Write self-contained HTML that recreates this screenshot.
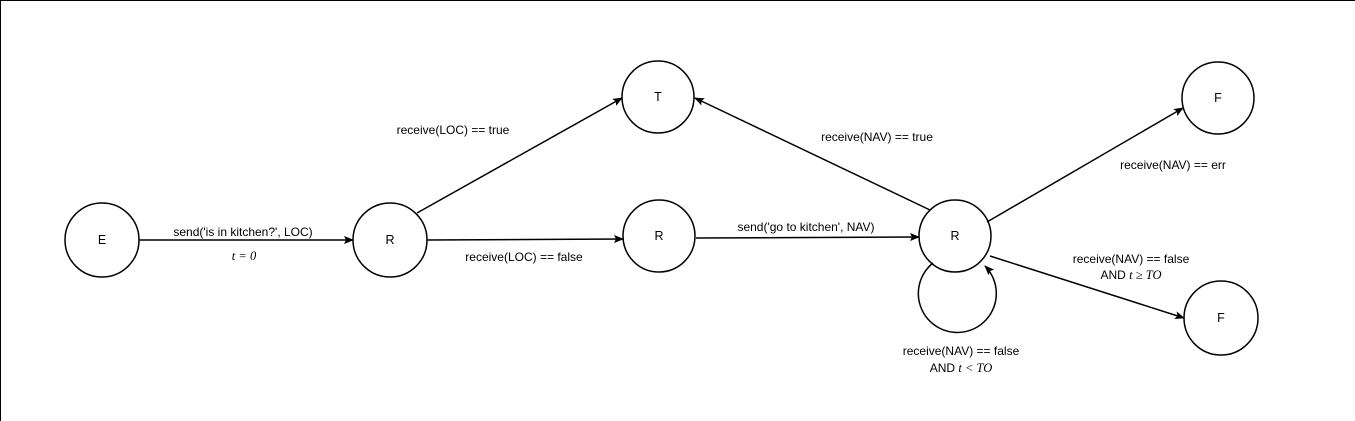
<!DOCTYPE html>
<html><head><meta charset="utf-8"><style>
html,body{margin:0;padding:0;background:#fff;}
svg{display:block;}
text{font-family:"Liberation Sans",sans-serif;font-size:12px;fill:#000;}
.n{font-size:12.5px;}
.m{font-family:"Liberation Serif",serif;font-style:italic;font-size:12.5px;}
</style></head><body>
<svg width="1355" height="421" viewBox="0 0 1355 421" xmlns="http://www.w3.org/2000/svg">
<defs><marker id="a" markerWidth="10" markerHeight="8" refX="9" refY="4" orient="auto" markerUnits="userSpaceOnUse"><path d="M0,0 L10,4 L0,8 L2,4 z" fill="#000"/></marker></defs>
<line x1="0" y1="0.5" x2="1355" y2="0.5" stroke="#000"/>
<line x1="0.5" y1="0" x2="0.5" y2="421" stroke="#000"/>
<g fill="none" stroke="#000" stroke-width="1.5">
<circle cx="102" cy="240" r="37"/>
<circle cx="390" cy="240" r="37"/>
<circle cx="658" cy="97" r="36"/>
<circle cx="659" cy="236" r="36"/>
<circle cx="955" cy="236" r="36"/>
<circle cx="1218" cy="98" r="36"/>
<circle cx="1221" cy="318" r="37"/>
<path d="M933,263 A39,39 0 1 0 985,266" marker-end="url(#a)"/>
<line x1="139" y1="240" x2="353" y2="240" marker-end="url(#a)"/>
<line x1="417" y1="213" x2="622" y2="98" marker-end="url(#a)"/>
<line x1="427" y1="240" x2="623" y2="239" marker-end="url(#a)"/>
<line x1="696" y1="238" x2="919" y2="237" marker-end="url(#a)"/>
<line x1="930" y1="210" x2="695" y2="98" marker-end="url(#a)"/>
<line x1="987" y1="222" x2="1183" y2="108" marker-end="url(#a)"/>
<line x1="990" y1="256" x2="1184" y2="318" marker-end="url(#a)"/>
</g>
<g text-anchor="middle">
<text class="n" x="102" y="244">E</text>
<text class="n" x="390" y="244">R</text>
<text class="n" x="658" y="101">T</text>
<text class="n" x="659" y="240">R</text>
<text class="n" x="955" y="240">R</text>
<text class="n" x="1218" y="102">F</text>
<text class="n" x="1221" y="322">F</text>
<text x="243" y="236">send('is in kitchen?', LOC)</text>
<text x="244" y="260" class="m" fill="#555">t = 0</text>
<text x="453" y="134">receive(LOC) == true</text>
<text x="524" y="261">receive(LOC) == false</text>
<text x="806" y="231">send('go to kitchen', NAV)</text>
<text x="877" y="141">receive(NAV) == true</text>
<text x="1173" y="169">receive(NAV) == err</text>
<text x="1131" y="263">receive(NAV) == false</text>
<text x="1131" y="279">AND <tspan class="m">t ≥ TO</tspan></text>
<text x="961" y="355">receive(NAV) == false</text>
<text x="961" y="372">AND <tspan class="m">t &lt; TO</tspan></text>
</g>
</svg>
</body></html>
